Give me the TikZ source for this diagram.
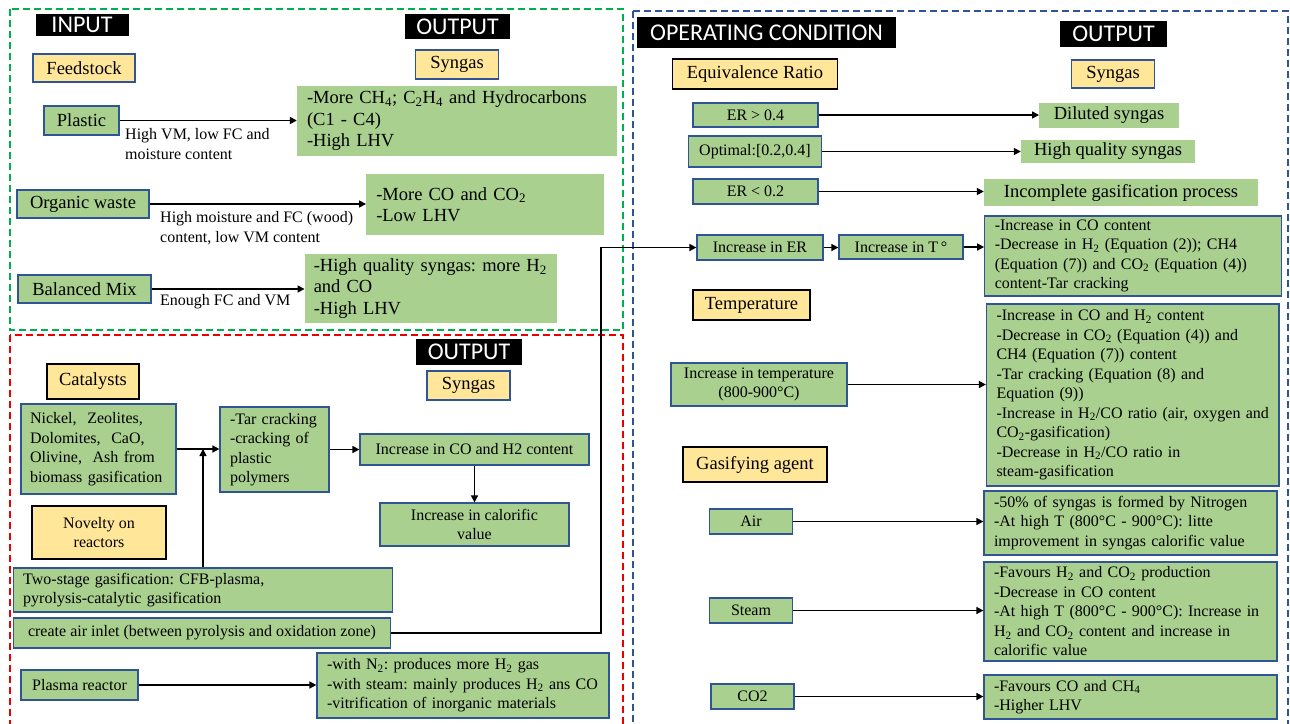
\documentclass[tikz,border=0pt]{standalone}
\usepackage{fontspec}
\setmainfont{Liberation Serif}
\newfontfamily\headfont{Carlito}
\usetikzlibrary{arrows.meta}
\definecolor{boxgreen}{RGB}{169,208,142}
\definecolor{boxblue}{RGB}{47,85,151}
\definecolor{keyyellow}{RGB}{255,230,153}
\definecolor{zonegreen}{RGB}{0,176,80}
\definecolor{zonered}{RGB}{235,0,0}
\definecolor{zoneblue}{RGB}{47,85,151}
\frenchspacing
\begin{document}
\begin{tikzpicture}[x=1pt,y=-1pt,
  hdr/.style={fill=black,text=white,font=\headfont\fontsize{24}{26}\selectfont,inner sep=0pt},
  key/.style={fill=keyyellow,draw=black,line width=1.2pt,inner sep=0pt,font=\fontsize{18.5}{21}\selectfont},
  keyb/.style={key,draw=boxblue},
  cond/.style={fill=boxgreen,draw=boxblue,line width=1.2pt,inner sep=0pt,inner xsep=10pt,font=\fontsize{16}{19.5}\selectfont},
  res/.style={fill=boxgreen,inner sep=0pt,inner xsep=10pt,font=\fontsize{18.5}{21.5}\selectfont},
  lg/.style={font=\fontsize{18.5}{21.5}\selectfont},
  sm/.style={font=\fontsize{16}{19.5}\selectfont},
  dims/.style n args={2}{minimum width=#1,minimum height=#2},
  txt/.style={text width=#1,align=left},
  lbl/.style={anchor=west,align=left,inner sep=0pt,font=\fontsize{16}{20}\selectfont},
  link/.style={line width=1.5pt,-{Triangle[length=7pt,width=7pt]}},
  zone/.style={line width=2.2pt,dash pattern=on 7pt off 4pt}]
\fill[white] (0,0) rectangle (1290,723);
\useasboundingbox (0,0) rectangle (1290,723);
\draw[zone,zonegreen] (10,9) rectangle (623,330);
\draw[zone,zonered] (10,335) rectangle (623,740);
\draw[zone,zoneblue] (633,11) rectangle (1288,740);

\node[hdr,dims={93pt}{22pt}] (inhdr) at (82,25) {INPUT};
\node[hdr,dims={105pt}{25pt}] (outhdrA) at (457.5,26.5) {OUTPUT};
\node[keyb,dims={102pt}{28pt}] (feed) at (84,68) {Feedstock};
\node[keyb,dims={83pt}{29pt}] (syngasA) at (457,64.5) {Syngas};
\node[cond,lg,dims={75pt}{29pt}] (plastic) at (81.5,120.5) {Plastic};
\node[res,txt={300pt},dims={320pt}{70pt}] (resplastic) at (457,121) {-More CH\textsubscript{4}; C\textsubscript{2}H\textsubscript{4} and Hydrocarbons\\(C1 - C4)\\-High LHV};
\node[cond,lg,dims={132pt}{28pt}] (organic) at (83,204) {Organic waste};
\node[res,txt={217.5pt},dims={237.5pt}{61pt}] (resorganic) at (485,204.5) {-More CO and CO\textsubscript{2}\\-Low LHV};
\node[cond,lg,dims={133pt}{28pt}] (balanced) at (84.5,289) {Balanced Mix};
\node[res,txt={240.5pt},inner xsep=6pt,dims={252.5pt}{69pt}] (resbalanced) at (431,288.5) {\hspace*{3pt}-High quality syngas: more H\textsubscript{2}\\\hspace*{3pt}and CO\\\hspace*{3pt}-High LHV};
\node[lbl] (lblplastic) at (125,144) {High VM, low FC and\\moisture content};
\node[lbl] (lblorganic) at (160,228) {High moisture and FC (wood)\\content, low VM content};
\node[lbl] (lblbalanced) at (160,302) {Enough FC and VM};
\draw[link] (plastic.east) -- (plastic.east -| resplastic.west);
\draw[link] (organic.east) -- (organic.east -| resorganic.west);
\draw[link] (balanced.east) -- (balanced.east -| resbalanced.west);

\node[hdr,dims={106pt}{26pt}] (outhdrB) at (469,352) {OUTPUT};
\node[keyb,dims={83pt}{29pt}] (syngasB) at (468.5,385.5) {Syngas};
\node[key,dims={92pt}{35pt}] (catalysts) at (93,381.5) {Catalysts};
\node[cond,txt={137pt},inner xsep=9pt,dims={155pt}{90pt}] (catlist) at (98.5,449) {Nickel,~ Zeolites,\\Dolomites,~ CaO,\\Olivine,~ Ash from\\biomass gasification};
\node[cond,txt={89pt},dims={109pt}{85pt}] (tar) at (274.5,449.5) {-Tar cracking\\-cracking of\\plastic\\polymers};
\node[cond,dims={229pt}{31pt}] (cohtwo) at (474.5,449.5) {Increase in CO and H2 content};
\node[cond,align=center,dims={189pt}{43pt}] (calorific) at (474.5,524.5) {Increase in calorific\\value};
\node[key,sm,align=center,dims={134pt}{53pt}] (novelty) at (99,532.5) {Novelty on\\reactors};
\node[cond,txt={359.5pt},dims={379.5pt}{44pt}] (twostage) at (203,590) {Two-stage gasification: CFB-plasma,\\pyrolysis-catalytic gasification};
\node[cond,dims={377pt}{30pt}] (airinlet) at (202,633) {create air inlet (between pyrolysis and oxidation zone)};
\node[cond,dims={117pt}{30pt}] (plasma) at (79.5,685) {Plasma reactor};
\node[cond,txt={272pt},dims={292pt}{65pt}] (resplasma) at (463,685.5) {-with N\textsubscript{2}: produces more H\textsubscript{2} gas\\-with steam: mainly produces H\textsubscript{2} ans CO\\-vitrification of inorganic materials};
\draw[link] (catlist.east) -- (catlist.east -| tar.west);
\draw[link] (twostage.north) -- (twostage.north |- catlist.east);
\draw[link] (tar.east) -- (cohtwo.west);
\draw[link] (cohtwo.south) -- (calorific.north);
\draw[link] (plasma.east) -- (plasma.east -| resplasma.west);
\coordinate (bend) at (601,633);

\node[hdr,dims={259pt}{31pt}] (condhdr) at (766.5,32.5) {OPERATING CONDITION};
\node[hdr,dims={107pt}{26pt}] (outhdrC) at (1113.5,34) {OUTPUT};
\node[key,dims={164.5pt}{30pt}] (equiv) at (755,74) {Equivalence Ratio};
\node[keyb,dims={83.5pt}{28pt}] (syngasC) at (1113,74) {Syngas};
\node[cond,dims={125pt}{24pt}] (ergt) at (755.5,115) {ER > 0.4};
\node[res,dims={139.5pt}{25pt}] (diluted) at (1109,115.5) {Diluted syngas};
\node[cond,dims={133.5pt}{31pt}] (eropt) at (755,151.5) {Optimal:[0.2,0.4]};
\node[res,dims={174pt}{23pt}] (highq) at (1108,151.5) {High quality syngas};
\node[cond,dims={125pt}{25pt}] (erlt) at (755.5,191.5) {ER < 0.2};
\node[res,dims={274pt}{27pt}] (incomplete) at (1121,192.5) {Incomplete gasification process};
\node[cond,dims={126pt}{25pt}] (erinc) at (760,247.5) {Increase in ER};
\node[cond,dims={124pt}{24pt}] (tinc) at (901,247) {Increase in T\,°};
\node[cond,txt={276.5pt},dims={296.5pt}{80pt}] (reser) at (1133,256) {-Increase in CO content\\-Decrease in H\textsubscript{2} (Equation (2)); CH4\\(Equation (7)) and CO\textsubscript{2} (Equation (4))\\content-Tar cracking};
\node[key,dims={117pt}{30pt}] (temperature) at (751.5,305) {Temperature};
\node[cond,align=center,dims={176pt}{43pt}] (tempinc) at (759,384.5) {Increase in temperature\\(800-900°C)};
\node[cond,txt={272.5pt},dims={292.5pt}{182pt}] (restemp) at (1132.75,395) {-Increase in CO and H\textsubscript{2} content\\-Decrease in CO\textsubscript{2} (Equation (4)) and\\CH4 (Equation (7)) content\\-Tar cracking (Equation (8) and\\Equation (9))\\-Increase in H\textsubscript{2}/CO ratio (air, oxygen and\\CO\textsubscript{2}-gasification)\\-Decrease in H\textsubscript{2}/CO ratio in\\steam-gasification};
\node[key,dims={144pt}{35pt}] (gasagent) at (755,464.5) {Gasifying agent};
\node[cond,dims={82.5pt}{25pt}] (air) at (751,521.5) {Air};
\node[cond,txt={273pt},dims={293pt}{64pt}] (resair) at (1130.5,523) {-50\% of syngas is formed by Nitrogen\\-At high T (800°C - 900°C): litte\\improvement in syngas calorific value};
\node[cond,dims={82.5pt}{25pt}] (steam) at (751,610.5) {Steam};
\node[cond,txt={273pt},dims={293pt}{99pt}] (ressteam) at (1130.5,611.5) {-Favours H\textsubscript{2} and CO\textsubscript{2} production\\-Decrease in CO content\\-At high T (800°C - 900°C): Increase in\\H\textsubscript{2} and CO\textsubscript{2} content and increase in\\calorific value};
\node[cond,dims={83pt}{25pt}] (cotwo) at (752.5,696.5) {CO2};
\node[cond,txt={273pt},dims={293pt}{44pt}] (resco) at (1130.5,697) {-Favours CO and CH\textsubscript{4}\\-Higher LHV};
\draw[link] (ergt.east) -- (ergt.east -| diluted.west);
\draw[link] (eropt.east) -- (eropt.east -| highq.west);
\draw[link] (erlt.east) -- (erlt.east -| incomplete.west);
\draw[link] (airinlet.east) -- (bend) |- (erinc.west);
\draw[link] (erinc.east) -- (erinc.east -| tinc.west);
\draw[link] (tinc.east) -- (tinc.east -| reser.west);
\draw[link] (tempinc.east) -- (tempinc.east -| restemp.west);
\draw[link] (air.east) -- (air.east -| resair.west);
\draw[link] (steam.east) -- (steam.east -| ressteam.west);
\draw[link] (cotwo.east) -- (cotwo.east -| resco.west);
\end{tikzpicture}
\end{document}
